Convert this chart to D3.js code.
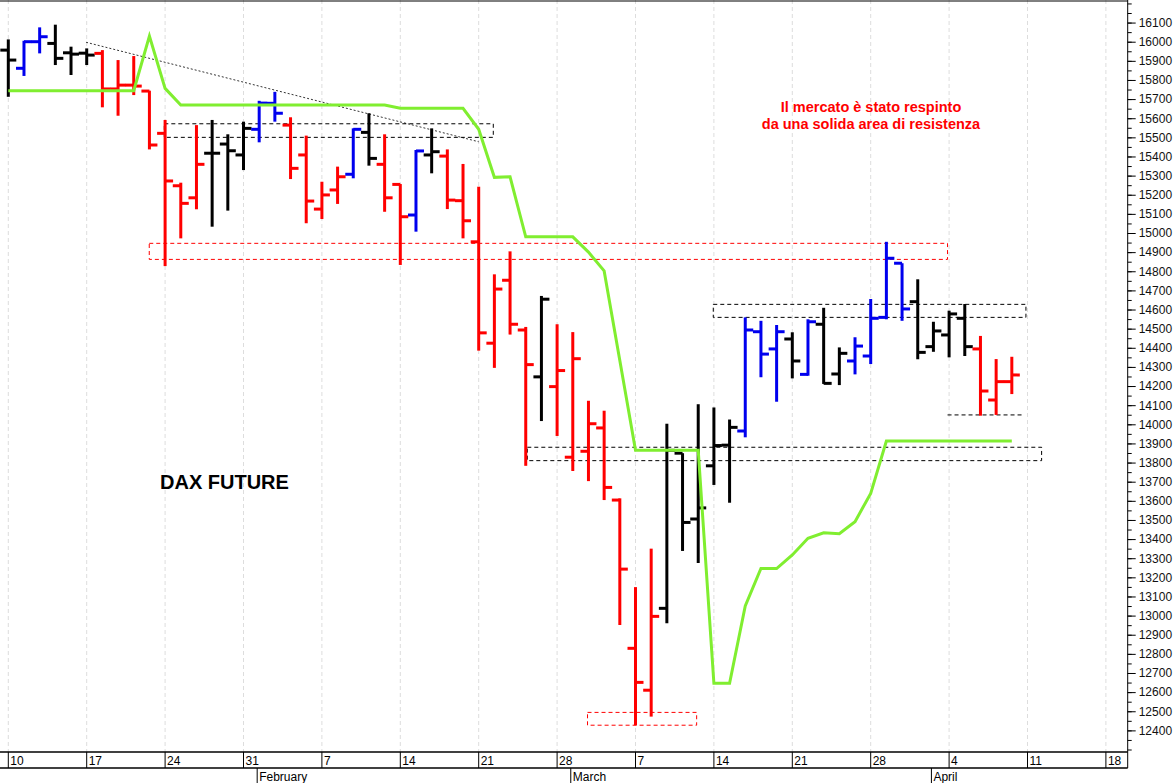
<!DOCTYPE html>
<html><head><meta charset="utf-8">
<script src="https://cdn.jsdelivr.net/npm/d3@7"></script>
<style>body{margin:0;background:#fff}svg{display:block}text{font-family:"Liberation Sans",Arial,sans-serif}</style>
</head><body><svg id="c" width="1176" height="783"></svg>
<script>
const opens  = [15956,15861,16000,15991,15942,15940,15939,15753,15773,15742,15521,15247,15184,15417,15465,15408,15542,15678,15564,15408,15125,15225,15307,15526,15359,15254,15094,15408,15402,15169,14954,14424,14753,14493,14248,14197,13828,13859,13981,13604,12829,12610,13038,13849,13505,13783,13891,13965,14484,14394,14446,14261,14523,14263,14331,14357,14559,14842,14641,14406,14467,14554,14394,14127,14223];
const highs  = [16012,16005,16075,16089,15974,15965,15956,15904,15925,15744,15591,15263,15564,15591,15516,15582,15691,15738,15605,15509,15268,15347,15547,15626,15516,15256,15434,15547,15437,15361,15242,14784,14904,14509,14671,14523,14482,14123,14071,13613,13149,13350,14003,13849,14105,14088,14025,14559,14541,14519,14481,14549,14609,14402,14455,14655,14954,14842,14758,14536,14594,14629,14462,14341,14353];
const lows   = [15712,15821,15939,15878,15826,15878,15657,15613,15721,15437,14827,14972,15124,15033,15117,15329,15474,15582,15282,15051,15073,15152,15286,15352,15111,14833,15007,15312,15125,14972,14385,14295,14469,13783,14017,13939,13756,13703,13604,12951,12427,12472,12960,13338,13275,13683,13590,13932,14246,14118,14240,14254,14211,14205,14261,14315,14549,14541,14340,14379,14350,14357,14045,14049,14158];
const closes = [15904,16000,16026,15913,15935,15930,15753,15773,15768,15460,15272,15155,15359,15417,15430,15547,15679,15626,15338,15167,15199,15294,15542,15390,15184,15085,15429,15425,15172,15064,14478,14707,14523,14312,14654,14281,14343,14003,13670,13243,12651,12996,13864,13487,13563,13889,13984,14493,14367,14484,14331,14536,14214,14371,14409,14554,14868,14603,14376,14488,14577,14406,14174,14223,14258];
const barColors = ("kbbkkk"+"rrrrrrr"+"kkk"+"bb"+"rrrr"+"b"+"k"+"rr"+"b"+"k"+"rrrrrr"+"k"+"rrrrrrr"+"kkkkk"+"bbb"+"k"+"b"+"kk"+"bbbb"+"kkkk"+"rrr").split("");
const greenLine = [15744,15744,15744,15744,15744,15744,15744,15744,15744,16030,15756,15669,15669,15669,15669,15669,15669,15669,15669,15669,15669,15669,15669,15669,15669,15652,15652,15652,15652,15652,15542,15291,15294,14980,14980,14980,14980,14900,14802,14333,13864,13864,13864,13864,13864,12646,12646,13051,13246,13246,13317,13404,13433,13428,13491,13639,13913,13913,13913,13913,13913,13913,13913,13913,13913];
const weekTickIdx = [0,5,10,15,20,25,30,35,40,45,50,55,60,65,70];
const weekLabels = ["10","17","24","31","7","14","21","28","7","14","21","28","4","11","18"];
const monthIdx = [16,36,59];
const monthLabels = ["February","March","April"];
const boxes = [[9.95,30.93,15500,15571,"#000"],[8.99,59.9,14862,14946,"#f00"],[44.96,64.9,14559,14627,"#000"],[33.1,65.9,13810,13880,"#000"],[36.94,43.9,12427,12494,"#f00"]];
const trend = [[4.96,15997],[30,15477]];
const supportLine = [[59.9,64.7,14049]];
const notes = ["Il mercato è stato respinto","da una solida area di resistenza"];
const title = "DAX FUTURE";

const colorMap = {k:"#000",b:"#0000ee",r:"#ff0000"};
const W=1127.7, H=752;
const svg=d3.select("#c");
const x=d3.scaleLinear().domain([0,1]).range([8.3,8.3+15.68]);
const y=d3.scaleLinear().domain([12287,16218]).range([H,0]);
svg.append("defs").append("clipPath").attr("id","cp").append("rect").attr("width",W).attr("height",H);
const g=svg.append("g").attr("clip-path","url(#cp)");
g.selectAll(".gr").data(weekTickIdx).join("line").attr("x1",d=>x(d)).attr("x2",d=>x(d)).attr("y1",0).attr("y2",H)
 .attr("stroke","#ddd").attr("stroke-dasharray","4,3").attr("stroke-width",1);
g.selectAll(".bx").data(boxes).join("rect").attr("x",d=>x(d[0])).attr("width",d=>x(d[1])-x(d[0]))
 .attr("y",d=>y(d[3])).attr("height",d=>y(d[2])-y(d[3])).attr("fill","none").attr("stroke",d=>d[4]).attr("stroke-width",1).attr("stroke-dasharray","4,3");
g.append("line").attr("x1",x(trend[0][0])).attr("y1",y(trend[0][1])).attr("x2",x(trend[1][0])).attr("y2",y(trend[1][1]))
 .attr("stroke","#000").attr("stroke-width",0.8).attr("stroke-dasharray","2,2");
g.selectAll(".sl").data(supportLine).join("line").attr("x1",d=>x(d[0])).attr("x2",d=>x(d[1])).attr("y1",d=>y(d[2])).attr("y2",d=>y(d[2]))
 .attr("stroke","#000").attr("stroke-dasharray","4,3");
const bars=g.selectAll(".bar").data(opens.map((o,i)=>({i,o,h:highs[i],l:lows[i],c:closes[i],col:colorMap[barColors[i]]}))).join("g");
bars.append("line").attr("x1",d=>x(d.i)).attr("x2",d=>x(d.i)).attr("y1",d=>y(d.h)).attr("y2",d=>y(d.l)).attr("stroke",d=>d.col).attr("stroke-width",3);
bars.append("line").attr("x1",d=>x(d.i)-8).attr("x2",d=>x(d.i)).attr("y1",d=>y(d.o)).attr("y2",d=>y(d.o)).attr("stroke",d=>d.col).attr("stroke-width",3);
bars.append("line").attr("x1",d=>x(d.i)).attr("x2",d=>x(d.i)+8).attr("y1",d=>y(d.c)).attr("y2",d=>y(d.c)).attr("stroke",d=>d.col).attr("stroke-width",3);
g.append("path").datum(greenLine).attr("d",d3.line().x((d,i)=>x(i)).y(d=>y(d))).attr("fill","none").attr("stroke","#80ee30").attr("stroke-width",3);
svg.append("line").attr("x1",0).attr("x2",W).attr("y1",1).attr("y2",1).attr("stroke","#000");
svg.append("line").attr("x1",W).attr("x2",W).attr("y1",0).attr("y2",H+16).attr("stroke","#000");
const yax=svg.append("g").attr("transform",`translate(${W},0)`).call(d3.axisRight(y).tickValues(d3.range(12400,16101,100)).tickSize(8).tickFormat(d3.format("d")));
yax.select(".domain").remove();
yax.selectAll("text").attr("font-size",12).attr("fill","#111").attr("x",11);
svg.append("g").attr("transform",`translate(${W},0)`).call(d3.axisRight(y).tickValues(d3.range(12300,16201,50)).tickSize(4).tickFormat("")).select(".domain").remove();
svg.append("line").attr("x1",0).attr("x2",W).attr("y1",H).attr("y2",H).attr("stroke","#000").attr("stroke-width",1.5);
svg.append("line").attr("x1",0).attr("x2",W).attr("y1",H+16).attr("y2",H+16).attr("stroke","#000").attr("stroke-width",1.5);
svg.selectAll(".wt").data(weekTickIdx).join("line").attr("x1",d=>x(d)).attr("x2",d=>x(d)).attr("y1",H).attr("y2",H+16).attr("stroke","#000");
svg.selectAll(".wl").data(weekTickIdx).join("text").attr("x",d=>x(d)+2).attr("y",H+13).attr("font-size",12).text((d,i)=>weekLabels[i]);
svg.selectAll(".mt").data(monthIdx).join("line").attr("x1",d=>x(d)-2).attr("x2",d=>x(d)-2).attr("y1",H+16).attr("y2",783).attr("stroke","#000");
svg.selectAll(".ml").data(monthIdx).join("text").attr("x",d=>x(d)).attr("y",H+29).attr("font-size",12).text((d,i)=>monthLabels[i]);
svg.append("text").attr("x",160).attr("y",489).attr("font-size",20).attr("font-weight","bold").text(title);
svg.selectAll(".nt").data(notes).join("text").attr("x",871).attr("y",(d,i)=>112+i*17).attr("text-anchor","middle")
 .attr("font-size",14.5).attr("font-weight","bold").attr("fill","#f00").text(d=>d);
</script></body></html>
